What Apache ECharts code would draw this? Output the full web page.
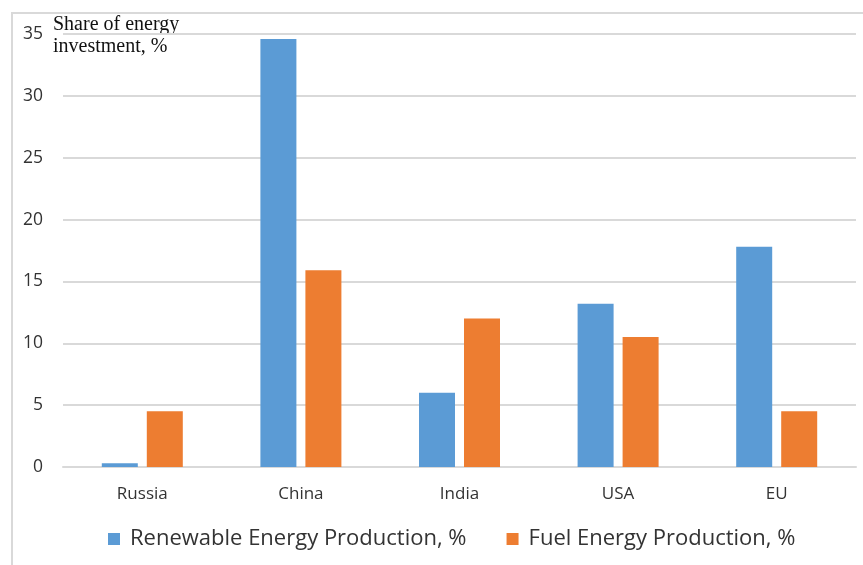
<!DOCTYPE html>
<html>
<head>
<meta charset="utf-8">
<style>
  html, body { margin: 0; padding: 0; background: #ffffff; }
  #chart { width: 863px; height: 565px; }
</style>
<script src="https://cdn.jsdelivr.net/npm/echarts@6/dist/echarts.min.js"></script>
</head>
<body>
<div id="chart"></div>
<script>
// Share of energy investment by region, %
const categories = ['Russia', 'China', 'India', 'USA', 'EU'];
const renewable = [0.3, 34.6, 6.0, 13.2, 17.8];
const fuel = [4.5, 15.9, 12.0, 10.5, 4.5];
const seriesNames = ['Renewable Energy Production, %', 'Fuel Energy Production, %'];
const yTicks = [0, 5, 10, 15, 20, 25, 30, 35];

const chart = echarts.init(document.getElementById('chart'), null, { renderer: 'canvas' });

const labelFont = "'Open Sans', 'Noto Sans', sans-serif";

chart.setOption({
  backgroundColor: '#ffffff',
  animation: false,
  graphic: [
    {
      type: 'polyline',
      shape: { points: [[12, 565], [12, 13], [863, 13]] },
      style: { stroke: '#d9d9d9', lineWidth: 2, fill: null },
      silent: true
    },
    {
      type: 'text',
      left: 53,
      top: 14,
      style: {
        text: 'Share of energy\ninvestment, %',
        font: "20px 'Liberation Serif', 'DejaVu Serif', serif",
        fill: '#111111',
        lineHeight: 22
      }
    }
  ],
  legend: {
    data: seriesNames,
    bottom: 10,
    left: 103,
    itemWidth: 12,
    itemHeight: 12,
    itemGap: 40,
    icon: 'rect',
    textStyle: { fontFamily: labelFont, fontSize: 22, color: '#333333', padding: [0, 0, 0, 5] }
  },
  grid: {
    left: 63,
    right: 7,
    top: 34,
    bottom: 98,
    containLabel: false
  },
  xAxis: {
    type: 'category',
    data: categories,
    axisLine: { show: true, lineStyle: { color: '#d9d9d9', width: 2 } },
    axisTick: { show: false },
    axisLabel: { fontFamily: labelFont, fontSize: 17, color: '#333333', margin: 19 }
  },
  yAxis: {
    type: 'value',
    min: 0,
    max: 35,
    interval: 5,
    axisLine: { show: false },
    axisTick: { show: false },
    splitLine: { lineStyle: { color: '#d9d9d9', width: 2 } },
    axisLabel: {
      fontFamily: labelFont,
      fontSize: 17.5,
      color: '#333333',
      margin: 20,
      formatter: (v) => (yTicks.includes(v) ? String(v) : '')
    }
  },
  series: [
    {
      name: seriesNames[0],
      type: 'bar',
      data: renewable,
      barWidth: 36,
      barGap: '25%',
      itemStyle: { color: '#5b9bd5' }
    },
    {
      name: seriesNames[1],
      type: 'bar',
      data: fuel,
      barWidth: 36,
      barGap: '25%',
      itemStyle: { color: '#ed7d31' }
    }
  ]
});
</script>
</body>
</html>
